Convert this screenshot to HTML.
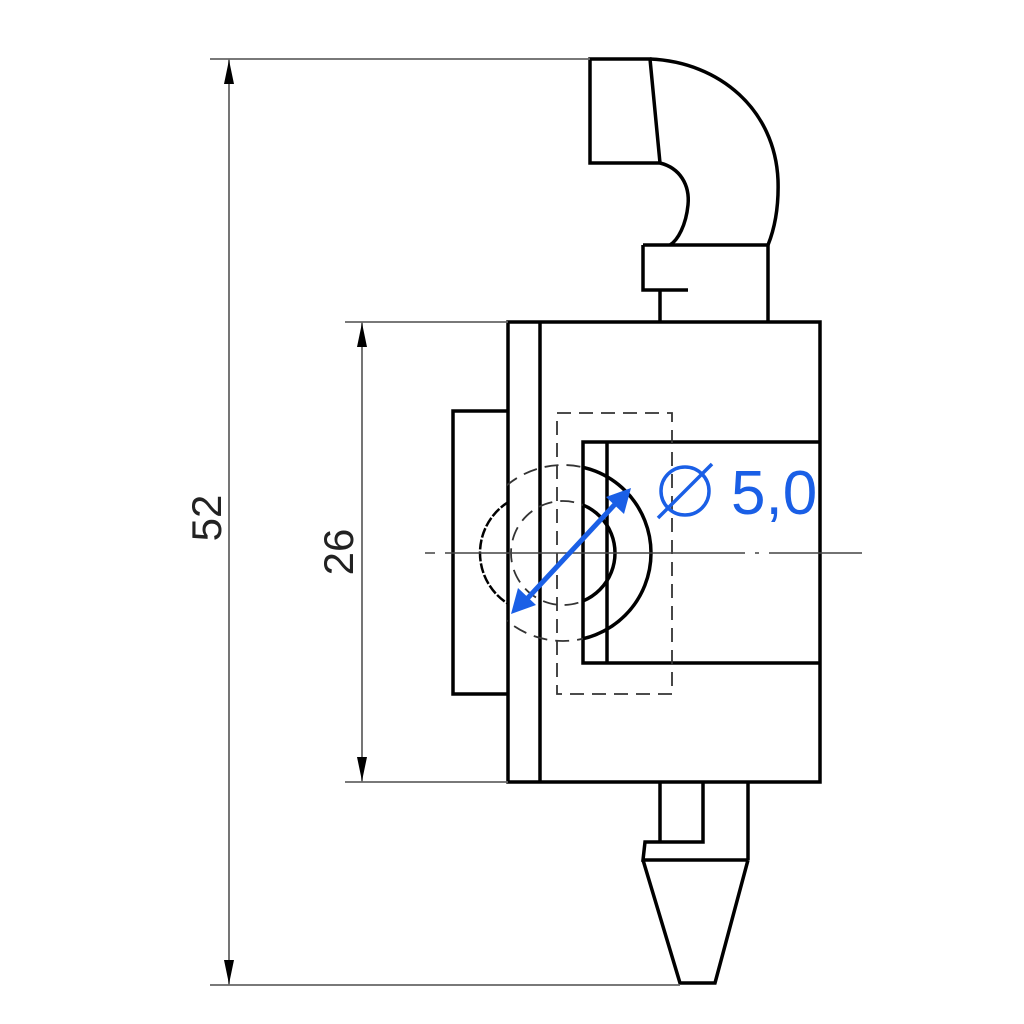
<!DOCTYPE html>
<html><head><meta charset="utf-8"><style>html,body{margin:0;padding:0;background:#fff}svg{display:block}</style></head>
<body>
<svg width="1024" height="1024" viewBox="0 0 1024 1024" xmlns="http://www.w3.org/2000/svg">
<defs>
<clipPath id="cr"><rect x="583" y="0" width="400" height="1024"/></clipPath>
<clipPath id="cl"><rect x="0" y="0" width="507" height="1024"/></clipPath>
<clipPath id="cm"><rect x="507" y="0" width="76" height="1024"/></clipPath>
</defs>
<g fill="none" stroke="#000" stroke-width="3.5">
<path d="M590,59 H650 L660,163 H590 Z"/>
<path d="M650,59 C720,62 775,110 778,180 C779,210 774,230 768,245"/>
<path d="M660,163 C680,168 690,185 688,205 C686,225 678,240 670,245"/>
<path d="M643,245 H768 V322 M643,245 V290 H688 M660,290 V322"/>
<rect x="508" y="322" width="312" height="460"/>
<line x1="540" y1="322" x2="540" y2="782"/>
<path d="M507,411 H453 V694 H507"/>
<path d="M820,442 H583 V663 H820"/>
<line x1="607" y1="442" x2="607" y2="663"/>
<circle cx="563" cy="553" r="88" clip-path="url(#cr)"/>
<circle cx="563" cy="553" r="52" clip-path="url(#cr)"/>
<circle cx="540" cy="553" r="60" clip-path="url(#cl)" stroke-width="2.5" stroke-dasharray="10,2"/>
<path d="M660,782 V842 H703 V782 M748,782 V860 M660,842 H645 L643,860 H748 M643,860 L680,983 H715 L748,860"/>
</g>
<g fill="none" stroke="#333" stroke-width="1.8" stroke-dasharray="14,8">
<rect x="557" y="413" width="115" height="281"/>
<circle cx="563" cy="553" r="88" clip-path="url(#cm)"/>
<circle cx="563" cy="553" r="52" clip-path="url(#cm)"/>
</g>
<line x1="425" y1="553" x2="862" y2="553" stroke="#444" stroke-width="1.5" stroke-dasharray="10,10,300,10,4,10,100"/>
<g stroke="#666" stroke-width="1.8">
<line x1="210" y1="59" x2="590" y2="59"/>
<line x1="210" y1="985" x2="680" y2="985"/>
<line x1="229" y1="59" x2="229" y2="985"/>
<line x1="345" y1="322" x2="508" y2="322"/>
<line x1="345" y1="782" x2="508" y2="782"/>
<line x1="362" y1="322" x2="362" y2="782"/>
</g>
<g fill="#000">
<path d="M229,60 L224,84 H234 Z"/><path d="M229,984 L224,960 H234 Z"/>
<path d="M362,323 L357,347 H367 Z"/><path d="M362,781 L357,757 H367 Z"/>
</g>
<text x="0" y="0" transform="translate(221,518) rotate(-90)" text-anchor="middle" font-family="Liberation Sans, sans-serif" font-size="42" fill="#222">52</text>
<text x="0" y="0" transform="translate(353,552) rotate(-90)" text-anchor="middle" font-family="Liberation Sans, sans-serif" font-size="42" fill="#222">26</text>
<line x1="525" y1="601" x2="618" y2="501" stroke="#1a5fe6" stroke-width="5"/>
<path d="M511,614 L518,588 L536,605 Z" fill="#1a5fe6"/>
<path d="M631,488 L624,514 L606,497 Z" fill="#1a5fe6"/>
<circle cx="685" cy="491" r="24" fill="none" stroke="#1a5fe6" stroke-width="3.5"/>
<line x1="658" y1="518" x2="712" y2="464" stroke="#1a5fe6" stroke-width="3.5"/>
<text x="731" y="514" font-family="Liberation Sans, sans-serif" font-size="62" fill="#1a5fe6">5,0</text>
</svg>
</body></html>
